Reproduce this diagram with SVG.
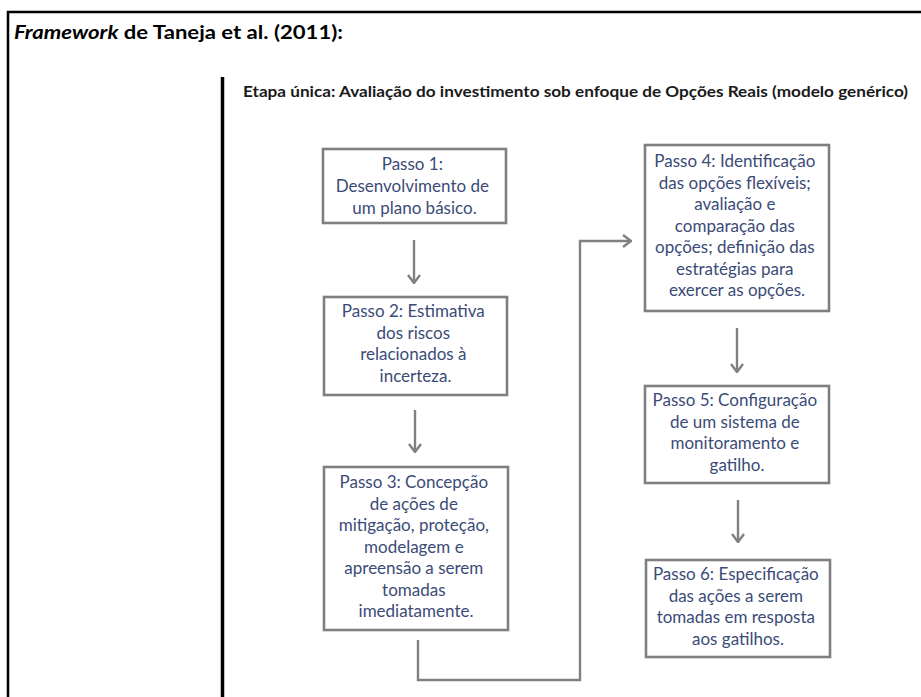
<svg xmlns="http://www.w3.org/2000/svg" width="921" height="697" viewBox="0 0 921 697">
  <style>
    .frame { fill: none; stroke: #000; stroke-width: 2.5; }
    .bar { fill: none; stroke: #000; stroke-width: 3.5; }
    .title { font-family: Lato, "Liberation Sans", sans-serif; font-weight: bold; font-size: 18px; fill: #000; }
    .sub { font-family: Lato, "Liberation Sans", sans-serif; font-weight: bold; font-size: 14.5px; fill: #1a1a1a; }
    .box { fill: #fff; stroke: #7f7f7f; stroke-width: 2.6; }
    .lbl { font-family: Lato, "Liberation Sans", sans-serif; font-size: 17px; fill: #3b4b77; text-anchor: middle; }
    .link { fill: none; stroke: #808080; stroke-width: 2.4; marker-end: url(#chev); }
  </style>
  <defs>
    <marker id="chev" markerUnits="userSpaceOnUse" viewBox="0 0 10 14" refX="9" refY="7" markerWidth="10" markerHeight="14" orient="auto">
      <polyline points="1,1 9,7 1,13" fill="none" stroke="#808080" stroke-width="2.4"/>
    </marker>
  </defs>

  <rect width="921" height="697" fill="#fff"/>

  <!-- page frame (top and left edges) -->
  <path class="frame" d="M8,697 V12 H921"/>
  <text class="title" x="14" y="39" textLength="329" lengthAdjust="spacingAndGlyphs"><tspan font-style="italic">Framework</tspan> de Taneja et al. (2011):</text>

  <!-- stage divider -->
  <path class="bar" d="M222.5,77 V697"/>
  <text class="sub" x="243" y="97" textLength="665" lengthAdjust="spacingAndGlyphs">Etapa única: Avaliação  do investimento sob enfoque de Opções Reais (modelo genérico)</text>

  <!-- connectors -->
  <g id="connectors">
    <path class="link" d="M414,240 V283"/>
    <path class="link" d="M415,410 V452"/>
    <path class="link" d="M418,640 V680 H580 V241 H631"/>
    <path class="link" d="M737,328 V372"/>
    <path class="link" d="M738,500 V542"/>
  </g>

  <g id="passo1">
    <rect class="box" x="323" y="149" width="183" height="74"/>
    <text class="lbl">
      <tspan x="414.5" y="170">Passo 1:</tspan>
      <tspan x="414.5" y="192">Desenvolvimento de</tspan>
      <tspan x="414.5" y="213.5">um plano básico.</tspan>
    </text>
  </g>

  <g id="passo2">
    <rect class="box" x="324" y="297" width="183" height="98"/>
    <text class="lbl">
      <tspan x="415.5" y="317">Passo 2: Estimativa</tspan>
      <tspan x="415.5" y="338.5">dos riscos</tspan>
      <tspan x="415.5" y="360">relacionados à</tspan>
      <tspan x="415.5" y="381.5">incerteza.</tspan>
    </text>
  </g>

  <g id="passo3">
    <rect class="box" x="324" y="467" width="184" height="163"/>
    <text class="lbl">
      <tspan x="416" y="488">Passo 3: Concepção</tspan>
      <tspan x="416" y="509.5">de ações de</tspan>
      <tspan x="416" y="531">mitigação, proteção,</tspan>
      <tspan x="416" y="552.5">modelagem e</tspan>
      <tspan x="416" y="574">apreensão a serem</tspan>
      <tspan x="416" y="595.5">tomadas</tspan>
      <tspan x="416" y="617">imediatamente.</tspan>
    </text>
  </g>

  <g id="passo4">
    <rect class="box" x="645" y="145" width="184" height="166"/>
    <text class="lbl">
      <tspan x="737" y="167">Passo 4: Identificação</tspan>
      <tspan x="737" y="188.5">das opções flexíveis;</tspan>
      <tspan x="737" y="210">avaliação e</tspan>
      <tspan x="737" y="231.5">comparação das</tspan>
      <tspan x="737" y="253">opções; definição das</tspan>
      <tspan x="737" y="274.5">estratégias para</tspan>
      <tspan x="737" y="296">exercer as opções.</tspan>
    </text>
  </g>

  <g id="passo5">
    <rect class="box" x="645" y="386" width="184" height="97"/>
    <text class="lbl">
      <tspan x="737" y="406">Passo 5: Configuração</tspan>
      <tspan x="737" y="427.5">de um sistema de</tspan>
      <tspan x="737" y="449">monitoramento e</tspan>
      <tspan x="737" y="470.5">gatilho.</tspan>
    </text>
  </g>

  <g id="passo6">
    <rect class="box" x="646" y="560" width="184" height="97"/>
    <text class="lbl">
      <tspan x="738" y="580">Passo 6: Especificação</tspan>
      <tspan x="738" y="601.5">das ações a serem</tspan>
      <tspan x="738" y="623">tomadas em resposta</tspan>
      <tspan x="738" y="644.5">aos gatilhos.</tspan>
    </text>
  </g>
</svg>
